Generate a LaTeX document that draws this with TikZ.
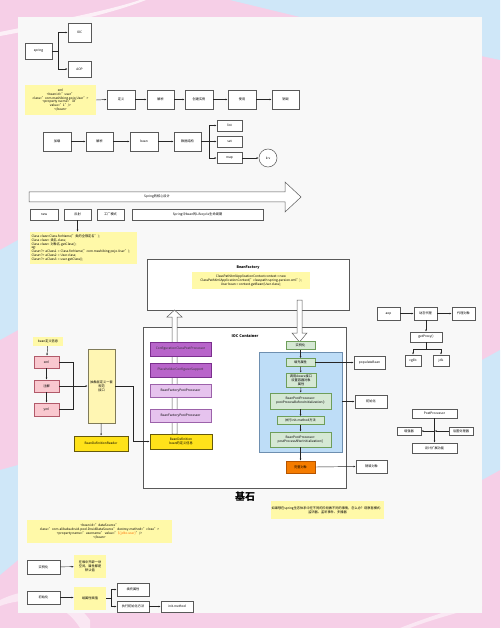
\documentclass[tikz,border=0pt]{standalone}
\usepackage{fontspec}
\setmainfont{Noto Sans CJK SC}
\usetikzlibrary{arrows.meta,calc}
\definecolor{bgpink}{HTML}{F6CFE7}
\definecolor{bgblue}{HTML}{CFE7F8}
\definecolor{panel}{HTML}{F8F8F8}
\definecolor{notey}{HTML}{FFF9A8}
\definecolor{pinkbox}{HTML}{F9C8CF}
\definecolor{pinkline}{HTML}{B25A6A}
\definecolor{tally}{HTML}{FFF6B3}
\definecolor{brighty}{HTML}{FFE21A}
\definecolor{darkp}{HTML}{B865CA}
\definecolor{darkpl}{HTML}{7B2F8E}
\definecolor{lightp}{HTML}{E6C3EE}
\definecolor{lightpl}{HTML}{9C62AA}
\definecolor{blueb}{HTML}{BEDDF7}
\definecolor{bluel}{HTML}{6E8FB0}
\definecolor{greenb}{HTML}{D5E8D4}
\definecolor{greenl}{HTML}{6E9E5A}
\definecolor{orangeb}{HTML}{F57C00}
\definecolor{orangel}{HTML}{B55400}
\tikzset{
  txt/.style={font=\fontsize{3.2}{3.9}\selectfont, align=center, inner sep=0.5pt},
  bx/.style={txt, draw=black!65, fill=white, line width=0.5pt},
  note/.style={txt, fill=notey},
  pinkb/.style={bx, fill=pinkbox, draw=pinkline},
  purpd/.style={bx, fill=darkp, draw=darkpl, text=black!80},
  purpl/.style={bx, fill=lightp, draw=lightpl},
  grn/.style={bx, fill=greenb, draw=greenl},
  yel/.style={bx, fill=brighty, draw=black!60!brighty},
  con/.style={draw=black!85, line width=0.45pt, -{Latex[length=2.2pt,width=1.8pt]}},
  ln/.style={draw=black!85, line width=0.45pt},
}
\begin{document}
\begin{tikzpicture}[x=1pt,y=-1pt]
\useasboundingbox (0,0) rectangle (500,628);
% background
\fill[bgpink] (0,0) rectangle (500,628);
\fill[bgblue] (230,0) -- (500,0) -- (500,60) -- (300,17) -- cycle;
\fill[bgblue] (0,250) -- (18,240) -- (18,330) -- (0,340) -- cycle;
\fill[bgblue] (482,360) -- (500,350) -- (500,470) -- (482,480) -- cycle;
\fill[bgblue] (0,470) -- (18,465) -- (18,560) -- (0,575) -- cycle;
\fill[white, opacity=0.7] (0,32) .. controls (60,20) and (110,10) .. (140,0) -- (146,0) .. controls (110,14) and (60,25) .. (0,36) -- cycle;
\fill[white, opacity=0.5] (0,600) .. controls (20,590) and (60,580) .. (90,620) -- (90,628) -- (80,628) .. controls (60,595) and (20,598) .. (0,606) -- cycle;
\fill[white, opacity=0.5] (482,600) .. controls (450,610) and (420,620) .. (400,628) -- (410,628) .. controls (430,620) and (460,612) .. (482,606) -- cycle;
\fill[panel] (18,17) rectangle (482,613);

% ---- row 1
\node[bx, minimum width=27pt, minimum height=16pt] (spring) at (38.5,51) {spring};
\node[bx, minimum width=23pt, minimum height=19pt] (ioc) at (79.5,32.5) {IOC};
\node[bx, minimum width=23pt, minimum height=16pt] (aop) at (79.5,69) {AOP};
\coordinate (sf) at (58,51);
\draw[ln] (spring.east) -- (sf);
\draw[con] (sf) |- (ioc.west);
\draw[con] (sf) |- (aop.west);

% ---- row 2
\node[note, minimum width=71pt, minimum height=30pt] (xmln) at (60.5,100) {xml\\<bean id="user"\\class="com.mashibing.pojo.User">\\<property na me="id"\\value="1"/>\\</bean>};
\node[bx, minimum width=28pt, minimum height=19pt] (r2a) at (121,99.5) {定义};
\node[bx, minimum width=27pt, minimum height=19pt] (r2b) at (160.5,99.5) {解析};
\node[bx, minimum width=28pt, minimum height=19pt] (r2c) at (199,99.5) {创建实例};
\node[bx, minimum width=28pt, minimum height=19pt] (r2d) at (242,99.5) {使用};
\node[bx, minimum width=27pt, minimum height=19pt] (r2e) at (285.5,99.5) {销毁};
\draw[con] (xmln.east) -- (r2a.west);
\draw[con] (r2a) -- (r2b);
\draw[con] (r2b) -- (r2c);
\draw[con] (r2c) -- (r2d);
\draw[con] (r2d) -- (r2e);

% ---- row 3
\node[bx, minimum width=28pt, minimum height=19pt] (r3a) at (57,141.5) {加载};
\node[bx, minimum width=27pt, minimum height=19pt] (r3b) at (99.5,141.5) {解析};
\node[bx, minimum width=28pt, minimum height=19pt] (r3c) at (144,141.5) {bean};
\node[bx, minimum width=27pt, minimum height=19pt] (r3d) at (187.5,141.5) {数据结构};
\node[bx, minimum width=25pt, minimum height=11pt] (list) at (229.5,125.5) {list};
\node[bx, minimum width=25pt, minimum height=11pt] (set) at (229.5,141.5) {set};
\node[bx, minimum width=25pt, minimum height=11pt] (map) at (229.5,158) {map};
\node[bx, circle, minimum size=18pt] (kv) at (268,158) {k:v};
\draw[con] (r3a) -- (r3b);
\draw[con] (r3b) -- (r3c);
\draw[con] (r3c) -- (r3d);
\coordinate (f3) at (209,141.5);
\draw[ln] (r3d.east) -- (f3);
\draw[con] (f3) |- (list.west);
\draw[con] (f3) -- (set.west);
\draw[con] (f3) |- (map.west);
\draw[con] (map) -- (kv);

% ---- big arrow
\draw[draw=black!65, fill=white, line width=0.5pt] (29,192) -- (285,192) -- (285,182) -- (301,197) -- (285,212) -- (285,202) -- (29,202) -- cycle;
\node[txt] (core) at (157,197) {Spring的核心设计};
\node[bx, minimum width=28pt, minimum height=11pt] (new) at (44,214.5) {new};
\node[bx, line width=0.9pt, minimum width=27pt, minimum height=11pt] (refl) at (77.5,214.5) {反射};
\node[bx, minimum width=27pt, minimum height=11pt] (fact) at (110.5,214.5) {工厂模式};
\node[bx, minimum width=131pt, minimum height=11pt] (life) at (197.5,214.5) {Spring中bean的Lifecycle生命周期};
\node[note, align=left, text width=104pt, minimum height=32pt, inner sep=1.5pt] (refn) at (83.5,248) {Class clazz=Class.forName("类的全限定名");\\Class clazz= 类名.class;\\Class clazz= 对象名.getClass();\\eg:\\ Class<?> aClass1 = Class.forName("com.mashibing.pojo.User");\\ Class<?> aClass2 = User.class;\\ Class<?> aClass3 = user.getClass();};
\draw[con] (refl.south) -- (refl.south |- refn.north);

% ---- BeanFactory
\node[draw=black!65, fill=white, line width=0.5pt, minimum width=202pt, minimum height=51pt, inner sep=0pt] (bf) at (248,284.5) {};
\node[txt, font=\fontsize{3.6}{4.2}\selectfont\bfseries] (bft) at (248,268) {BeanFactory};
\node[note, minimum width=118pt, minimum height=17pt] (bfn) at (251,280.5) {ClassPathXmlApplicationContext context = new\\ClassPathXmlApplicationContext("classpath:spring-persion.xml");\\User bean = context.getBean(User.class);};

% ---- IOC container
\node[draw=black!65, fill=white, line width=0.5pt, minimum width=203pt, minimum height=161pt, inner sep=0pt] (iocc) at (244.5,407.5) {};
\node[txt, font=\fontsize{3.8}{4.4}\selectfont\bfseries] (ioct) at (245,336) {IOC Container};
\node[font=\fontsize{10}{11}\selectfont\bfseries, inner sep=0pt] (jishi) at (245,497) {基石};

% hollow up arrow
\draw[draw=black!65, fill=white, line width=0.5pt] (172,434) -- (172,317) -- (167,317) -- (174.5,310) -- (182,317) -- (177,317) -- (177,434) -- cycle;
% hollow down arrow
\draw[draw=black!65, fill=white, line width=0.5pt] (297,300) -- (297,333) -- (292,333) -- (299.5,342) -- (307,333) -- (302,333) -- (302,300) -- cycle;

\node[purpd, minimum width=61pt, minimum height=14pt] (ccpp) at (180.5,349) {ConfigurationClassPostProcessor};
\node[purpd, minimum width=61pt, minimum height=14pt] (pcs) at (180.5,370) {PlaceholderConfigurerSupport};
\node[purpl, minimum width=61pt, minimum height=13pt] (bfpp1) at (180.5,391) {BeanFactoryPostProcessor};
\node[purpl, minimum width=61pt, minimum height=13pt] (bfpp2) at (180.5,415.5) {BeanFactoryPostProcessor};
\node[yel, minimum width=62pt, minimum height=15pt] (bd) at (181,441.5) {BeanDefinition\\bean的定义信息};

% blue lifecycle box
\node[draw=bluel, fill=blueb, line width=0.6pt, minimum width=83pt, minimum height=100pt, inner sep=0pt] (blue) at (300.5,402) {};
\node[grn, minimum width=29pt, minimum height=8pt] (inst) at (300.5,345.5) {实例化};
\node[grn, minimum width=29pt, minimum height=8pt] (fill) at (300.5,362.5) {填充属性};
\node[grn, minimum width=30pt, minimum height=14pt] (aware) at (301,380) {调用Aware接口\\设置容器对象\\属性};
\node[grn, minimum width=61pt, minimum height=16pt] (bppb) at (300.5,401) {BeanPostProcessor:\\postProcessBeforeInitialization()};
\node[grn, minimum width=47pt, minimum height=8pt] (initm) at (300.5,420.5) {执行init-method方法};
\node[grn, minimum width=61pt, minimum height=15pt] (bppa) at (300.5,439.5) {BeanPostProcessor:\\postProcessAfterInitialization()};
\node[bx, fill=orangeb, draw=orangel, minimum width=29pt, minimum height=12pt] (full) at (300.5,467) {完整对象};
\draw[con] (inst) -- (fill);
\draw[con] (fill) -- (aware);
\draw[con] (aware) -- (bppb);
\draw[con] (bppb) -- (initm);
\draw[con] (initm) -- (bppa);
\draw[con] (bppa) -- (full);

\node[bx, minimum width=31pt, minimum height=13pt] (popb) at (369.5,362.5) {populateBean};
\node[bx, minimum width=32pt, minimum height=13pt] (initr) at (371,401.5) {初始化};
\node[bx, minimum width=31pt, minimum height=13pt] (destr) at (371.5,466.5) {销毁对象};
\draw[con] (fill.east) -- (popb.west);
\draw[con] (blue.east |- initr.west) -- (initr.west);
\draw[con] (full.east) -- (destr.west);

% ---- AOP
\node[bx, minimum width=23pt, minimum height=13pt] (aop2) at (388.5,313.5) {aop};
\node[bx, minimum width=23pt, minimum height=13pt] (dyn) at (425.5,313.5) {动态代理};
\node[bx, minimum width=23pt, minimum height=13pt] (proxy) at (463.5,313.5) {代理对象};
\node[bx, minimum width=32pt, minimum height=10pt] (getp) at (426,337) {getProxy()};
\node[bx, minimum width=16pt, minimum height=11pt] (cglib) at (413,360.5) {cglib};
\node[bx, minimum width=16pt, minimum height=11pt] (jdk) at (441,360.5) {jdk};
\draw[con] (aop2) -- (dyn);
\draw[con] (dyn) -- (proxy);
\draw[con] (dyn.south -| getp.north) -- (getp.north);
\coordinate (gf) at (426,349);
\draw[ln] (getp.south) -- (gf);
\draw[con] (gf) -| (cglib.north);
\draw[con] (gf) -| (jdk.north);

% ---- PostProcessor
\node[bx, minimum width=45pt, minimum height=9pt] (pp) at (434.5,413.5) {PostProcessor};
\node[bx, minimum width=24pt, minimum height=8pt] (enh) at (409,431) {增强器};
\node[bx, minimum width=24pt, minimum height=8pt] (post) at (461,431) {后置处理器};
\node[bx, minimum width=45pt, minimum height=10pt] (ext) at (434.5,448) {设计扩展功能};
\draw[con] (pp) -- (ext);
\coordinate (pc) at (434.5,431);
\draw[con] (pc) -- (enh.east);
\draw[con] (post.west) -- (pc);

% ---- bottom note
\node[note, minimum width=111pt, minimum height=18pt] (obs) at (327.5,510) {如果想在spring生态体系中在不同的阶段做不同的事情，怎么办？观察者模式：\\监听器、监听事件、多播器};

% ---- left: bean definition
\node[note, minimum width=30pt, minimum height=9pt] (bdi) at (48,341.5) {bean定义信息};
\node[pinkb, minimum width=25pt, minimum height=12pt] (xml) at (46.5,362) {xml};
\node[pinkb, minimum width=25pt, minimum height=12pt] (anno) at (46.5,386) {注解};
\node[pinkb, minimum width=25pt, minimum height=13pt] (yml) at (46.5,409.5) {yml};
\node[bx, fill=tally, draw=black!50!tally, minimum width=27pt, minimum height=74pt] (tall) at (101.5,386) {抽象层定义一套\\规范\\接口};
\node[yel, minimum width=54pt, minimum height=15pt] (bdr) at (101,443.5) {BeanDefinitionReader};
\draw[con] (bdi) -- (xml);
\draw[con] (xml) -- (anno);
\draw[con] (anno) -- (yml);
\coordinate (lf) at (73,386);
\draw[ln] (xml.east) -| (lf);
\draw[ln] (yml.east) -| (lf);
\draw[con] (anno.east) -- (tall.west);
\draw[con] (tall) -- (bdr);
\coordinate (rt) at (133,386);
\draw[ln] (tall.east) -- (rt);
\draw[con] (rt) |- (bd.west);

% ---- bottom
\node[note, minimum width=145pt, minimum height=23pt] (dsn) at (99.5,531.5) {<bean id="dataSource"\\class="com.alibaba.druid.pool.DruidDataSource" destroy-method="close">\\<property name="username" value="\textcolor{orange!85!red}{\$\{jdbc.user\}}"/>\\</bean>};
\node[bx, minimum width=33pt, minimum height=14pt] (instb) at (43.5,567) {实例化};
\node[note, minimum width=32pt, minimum height=23pt] (n1) at (90,566.5) {在堆中开辟一块\\空间，属性都是\\默认值};
\node[bx, minimum width=33pt, minimum height=13pt] (initb) at (43.5,597.5) {初始化};
\node[note, minimum width=32pt, minimum height=23pt] (n2) at (90,598.5) {给属性赋值};
\node[bx, minimum width=32pt, minimum height=13pt] (fillb) at (133,589.5) {填充属性};
\node[bx, minimum width=32pt, minimum height=11pt] (execb) at (133,606.5) {执行初始化方法};
\node[bx, minimum width=32pt, minimum height=11pt] (imb) at (177,606.5) {init-method};
\draw[con] (instb) -- (n1);
\draw[con] (initb) -- (n2.west |- initb.east);
\coordinate (bf2) at (111,598.5);
\draw[ln] (n2.east) -- (bf2);
\draw[con] (bf2) |- (fillb.west);
\draw[con] (bf2) |- (execb.west);
\draw[con] (execb) -- (imb);
\end{tikzpicture}
\end{document}
